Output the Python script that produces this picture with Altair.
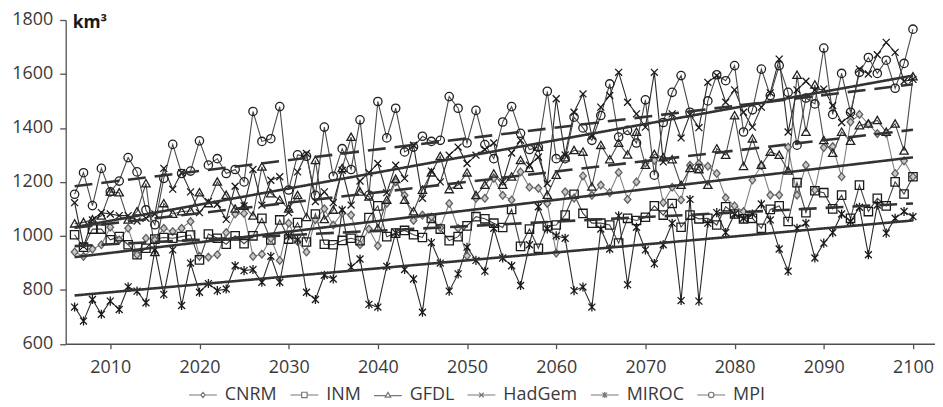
import altair as alt
import pandas as pd

YEARS = list(range(2006, 2101))
SERIES = ["CNRM", "INM", "GFDL", "HadGem", "MIROC", "MPI"]

CNRM = [940, 924, 951, 967, 1032, 985, 1028, 930, 991, 985, 1028, 1016, 1028, 1053, 924, 921,
        930, 1012, 1081, 1083, 924, 932, 990, 909, 1047, 979, 940, 1060, 1100, 1040, 1085,
        1077, 967, 1025, 963, 1120, 1200, 1150, 1057, 1077, 1070, 1030, 1120, 1028, 926, 1139, 1139,
        1213, 1150, 1133, 1237, 1180, 1176, 1120, 936, 1163, 1140, 1222, 1150, 1188, 1160, 1235,
        1135, 1200, 1270, 1280, 1123, 1180, 1133, 1262, 1268, 1258, 1231, 1141, 1111, 1090, 1207, 1260,
        1151, 1151, 1329, 1151, 1262, 1170, 1327, 1331, 1219, 1422, 1450, 1415, 1379, 1380, 1231, 1278, 1219]
INM = [1004, 958, 1025, 1025, 985, 997, 967, 930, 954, 988, 994, 991, 997, 1003, 911, 1007,
       991, 969, 1000, 971, 1000, 1065, 985, 1059, 988, 1049, 977, 1081, 969, 967, 983,
       991, 982, 1068, 1111, 997, 1010, 1020, 1004, 994, 1065, 1025, 982, 997, 1037, 1071, 1063,
       1047, 1031, 1098, 961, 1025, 954, 1037, 1040, 1077, 1154, 1083, 1047, 1047, 1040, 973,
       1065, 1057, 1069, 1111, 1077, 1120, 1032, 1077, 1063, 1065, 1040, 1108, 1081, 1063, 1065, 1028,
       1098, 1111, 1053, 1197, 1086, 1167, 1160, 1100, 1151, 1065, 1188, 1090, 1139, 1111, 1200, 1155, 1219]
GFDL = [1045, 1050, 1060, 1074, 1163, 1160, 1059, 1090, 1194, 939, 1120, 1081, 1090, 1092, 1160, 1120,
        1200, 1151, 1100, 1110, 1074, 1256, 1157, 1133, 1100, 1150, 1069, 1280, 1061, 1096, 1250,
        1366, 1163, 1145, 1028, 1133, 1210, 1133, 1090, 1170, 1234, 1295, 1172, 1188, 1234, 1150, 1188,
        1230, 1188, 1219, 1280, 1250, 1329, 1151, 1225, 1290, 1317, 1311, 1182, 1336, 1283, 1344,
        1300, 1385, 1262, 1302, 1290, 1283, 1188, 1250, 1246, 1188, 1323, 1299, 1446, 1258, 1360, 1262,
        1311, 1299, 1241, 1596, 1385, 1560, 1354, 1307, 1385, 1351, 1409, 1415, 1428, 1385, 1415, 1315, 1590]
HADGEM = [1123, 961, 1059, 1086, 1081, 1075, 1075, 1055, 1065, 1081, 1250, 1173, 1234, 1163, 1086, 1127,
          1117, 1061, 1184, 1111, 1246, 1114, 1206, 1219, 1086, 1237, 1305, 1127, 1163, 1123, 1243,
          1114, 1203, 1234, 1268, 1160, 1262, 1213, 1336, 1139, 1240, 1200, 1299, 1329, 1268, 1299, 1320,
          1344, 1200, 1307, 1354, 1262, 1292, 1194, 1508, 1300, 1458, 1526, 1369, 1477, 1520, 1606,
          1495, 1452, 1403, 1606, 1274, 1452, 1363, 1450, 1401, 1569, 1594, 1495, 1541, 1458, 1403, 1477,
          1530, 1655, 1385, 1541, 1573, 1540, 1544, 1483, 1420, 1446, 1618, 1600, 1671, 1717, 1680, 1573, 1580]
MIROC = [736, 684, 764, 709, 758, 727, 811, 795, 752, 948, 783, 948, 742, 899, 791, 823,
         797, 803, 889, 871, 875, 828, 924, 828, 1000, 985, 791, 764, 854, 840, 1096,
         884, 914, 746, 736, 887, 1012, 875, 840, 717, 975, 899, 795, 859, 958, 909, 869,
         1028, 918, 889, 816, 967, 1108, 1025, 1000, 991, 797, 810, 736, 1025, 951, 1074,
         819, 1032, 948, 897, 967, 1047, 760, 1135, 758, 1047, 1086, 1012, 1081, 1065, 1081, 1118,
         1059, 951, 869, 1028, 1047, 918, 973, 1012, 1081, 1053, 1106, 930, 1114, 1010, 1065, 1090, 1071]
MPI = [1154, 1234, 1112, 1250, 1163, 1203, 1290, 1237, 1096, 1041, 1213, 1339, 1231, 1240, 1352, 1262,
       1286, 1231, 1246, 1200, 1461, 1350, 1360, 1479, 1170, 1300, 1295, 1150, 1403, 1221, 1323,
       1246, 1430, 1151, 1498, 1363, 1473, 1311, 1329, 1369, 1350, 1354, 1516, 1473, 1344, 1465, 1338,
       1286, 1422, 1479, 1380, 1320, 1329, 1536, 1286, 1286, 1440, 1400, 1354, 1446, 1563, 1366,
       1391, 1344, 1504, 1225, 1420, 1532, 1594, 1458, 1250, 1500, 1597, 1575, 1631, 1385, 1467, 1618,
       1520, 1631, 1532, 1336, 1511, 1489, 1696, 1450, 1602, 1458, 1606, 1661, 1602, 1651, 1547, 1639, 1766]

# trend lines (value at first and last year)
TREND_START = [921, 962, 1030, 1032, 779, 1184]
TREND_END = [1291, 1120, 1393, 1594, 1057, 1562]

X_TICKS = list(range(2010, 2101, 10))
Y_TICKS = [600, 800, 1000, 1200, 1400, 1600, 1800]

values = dict(zip(SERIES, [CNRM, INM, GFDL, HADGEM, MIROC, MPI]))
rows = []
for s in SERIES:
    for yr, v in zip(YEARS, values[s]):
        rows.append({"year": yr, "value": v, "series": s, "series_k": s})
df = pd.DataFrame(rows)

trows = []
for s, a, b in zip(SERIES, TREND_START, TREND_END):
    trows.append({"year": YEARS[0], "value": a, "series": s})
    trows.append({"year": YEARS[-1], "value": b, "series": s})
tdf = pd.DataFrame(trows)

FONT = "Open Sans"
TXT = "#3a3a3a"
AX = "#505050"

LINE_COLORS = ["#808080", "#404040", "#4a4a4a", "#2a2a2a", "#2a2a2a", "#4a4a4a"]
MARKER_STROKES = ["#606060", "#1a1a1a", "#202020", "#1a1a1a", "#1a1a1a", "#202020"]
MARKER_FILLS = ["#c8c8c8", "transparent", "transparent", "transparent", "transparent", "transparent"]
SHAPES = [
    "M0,-1.1L0.95,0L0,1.1L-0.95,0Z",
    "M-1.2,-1.2L1.2,-1.2L1.2,1.2L-1.2,1.2Z",
    "M0,-1.15L1.2,0.95L-1.2,0.95Z",
    "M-1,-1L1,1M-1,1L1,-1",
    "M-1,-1L1,1M-1,1L1,-1M0,-1.3L0,1.3",
    "M1.2,0A1.2,1.2,0,1,1,-1.2,0A1.2,1.2,0,1,1,1.2,0Z",
]
# legend keys: short line on both sides of the marker
LEGEND_SHAPES = [
    "M-6.1,0L-0.95,0M0.95,0L6.1,0M0,-1.1L0.95,0L0,1.1L-0.95,0Z",
    "M-6.1,0L-1.2,0M1.2,0L6.1,0M-1.2,-1.2L1.2,-1.2L1.2,1.2L-1.2,1.2Z",
    "M-6.1,0.3L-0.9,0.3M0.9,0.3L6.1,0.3M0,-1.15L1.2,0.95L-1.2,0.95Z",
    "M-6.1,0L6.1,0M-1,-1L1,1M-1,1L1,-1",
    "M-6.1,0L6.1,0M-1,-1L1,1M-1,1L1,-1M0,-1.3L0,1.3",
    "M-6.1,0L-1.2,0M1.2,0L6.1,0M1.2,0A1.2,1.2,0,1,1,-1.2,0A1.2,1.2,0,1,1,1.2,0Z",
]
DASHES = [[1, 0], [18, 9], [18, 9], [1, 0], [1, 0], [18, 9]]

x_enc = alt.X(
    "year:Q",
    scale=alt.Scale(domain=[2005, 2102.47], nice=False, zero=False),
    axis=alt.Axis(values=X_TICKS, format="d", title=None, grid=False, tickSize=5,
                  labelPadding=10, labelFlush=False, labelFont=FONT, labelFontSize=18,
                  labelColor=TXT, domainColor=AX, tickColor=AX, domainWidth=1.3, tickWidth=1.3),
)
y_enc = alt.Y(
    "value:Q",
    scale=alt.Scale(domain=[600, 1800], nice=False, zero=False),
    axis=alt.Axis(values=Y_TICKS, format="d", title="km³", titleAngle=0, titleAlign="left",
                  titleBaseline="alphabetic", titleX=6.5, titleY=8, titleFont=FONT,
                  titleFontSize=17.5, titleFontWeight="bold", titleColor="#1a1a1a",
                  grid=False, tickSize=6, labelPadding=7, labelFont=FONT, labelFontSize=18,
                  labelColor=TXT, domainColor=AX, tickColor=AX, domainWidth=1.3, tickWidth=1.3),
)

lines = alt.Chart(df).mark_line(strokeWidth=1.1).encode(
    x=x_enc, y=y_enc,
    color=alt.Color("series:N", scale=alt.Scale(domain=SERIES, range=LINE_COLORS), legend=None),
)

points = alt.Chart(df).mark_point(filled=False, size=49, strokeWidth=1.3, opacity=1).encode(
    x=x_enc, y=y_enc,
    shape=alt.Shape("series:N", scale=alt.Scale(domain=SERIES, range=SHAPES), legend=None),
    stroke=alt.Stroke("series:N", scale=alt.Scale(domain=SERIES, range=MARKER_STROKES), legend=None),
    fill=alt.Fill("series:N", scale=alt.Scale(domain=SERIES, range=MARKER_FILLS), legend=None),
)

trend = alt.Chart(tdf).mark_line(strokeWidth=2.6, color="#333333").encode(
    x=x_enc, y=y_enc,
    detail="series:N",
    strokeDash=alt.StrokeDash("series:N", scale=alt.Scale(domain=SERIES, range=DASHES), legend=None),
)

# legend-only layer (draws no marks; its scale carries the legend keys)
legend_layer = alt.Chart(df).transform_filter("datum.year > 3000").mark_point(
    filled=False, color="#404040", strokeWidth=1.2
).encode(
    x=x_enc, y=y_enc,
    shape=alt.Shape("series_k:N", scale=alt.Scale(domain=SERIES, range=LEGEND_SHAPES),
                    legend=alt.Legend(orient="none", legendX=124, legendY=368,
                                      direction="horizontal", columns=6, title=None,
                                      symbolSize=21, symbolStrokeWidth=1.2,
                                      symbolStrokeColor="#404040", symbolFillColor="white",
                                      symbolOffset=5, labelOffset=13, labelFont=FONT,
                                      labelFontSize=18, labelColor=TXT, columnPadding=10)),
)

chart = alt.layer(lines, points, trend, legend_layer).resolve_scale(
    shape="independent"
).properties(
    width=874, height=325.5,
    autosize="none",
    padding={"left": 58, "top": 11, "right": 0, "bottom": 59},
).configure_view(stroke=None)

chart.save("out.html", embed_options={"renderer": "svg", "actions": False})
